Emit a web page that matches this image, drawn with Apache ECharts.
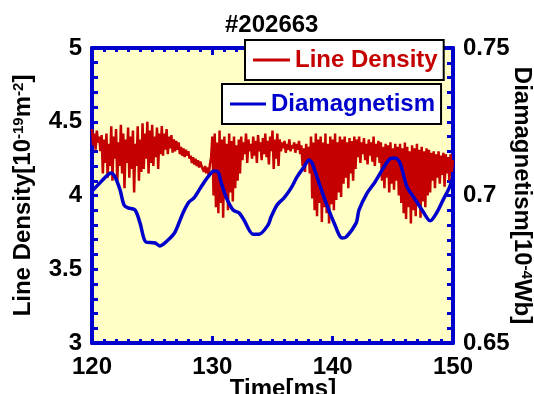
<!DOCTYPE html>
<html>
<head>
<meta charset="utf-8">
<script src="https://cdn.jsdelivr.net/npm/echarts@6/dist/echarts.min.js"></script>
<style>
  html, body { margin: 0; padding: 0; background: #fff; }
  #chart { width: 534px; height: 394px; }
</style>
</head>
<body>
<div id="chart"></div>
<script>
var densityStart = 120;
var densityStep = 0.1;
var densityValues = [
    4.45, 4.34, 4.42, 4.31, 4.44, 4.36, 4.40, 4.30,
    4.41, 4.15, 4.38, 4.22, 4.42, 4.12, 4.35, 4.20,
    4.47, 4.10, 4.40, 4.25, 4.45, 4.08, 4.36, 4.20, 4.48, 4.15, 4.42, 4.05, 4.38,
    4.22, 4.46, 4.12, 4.40, 4.18, 4.44, 4.02, 4.35, 4.20, 4.47, 4.10, 4.38, 4.16,
    4.49, 4.18, 4.42, 4.25, 4.50, 4.15, 4.44, 4.22, 4.48, 4.20, 4.40, 4.26, 4.46, 4.18, 4.42, 4.28,
    4.47, 4.27, 4.42, 4.31, 4.45, 4.28, 4.40, 4.32, 4.41, 4.29, 4.38, 4.30, 4.37, 4.31, 4.36, 4.28,
    4.33, 4.27, 4.32, 4.26, 4.31, 4.27, 4.30, 4.25,
    4.27, 4.22, 4.26, 4.21, 4.25, 4.20, 4.24, 4.19, 4.23, 4.20,
    4.21, 4.16, 4.20, 4.15, 4.19, 4.14, 4.21, 4.26,
    4.40, 4.00, 4.42, 3.92, 4.36, 3.88, 4.44, 3.95, 4.38, 3.85, 4.40, 3.98,
    4.35, 3.90, 4.42, 4.02, 4.37, 3.96, 4.40, 4.05, 4.34, 4.10, 4.38, 4.15,
    4.40, 4.24, 4.36, 4.28, 4.42, 4.22, 4.38, 4.30, 4.35, 4.25, 4.40, 4.27, 4.37, 4.22, 4.41, 4.30,
    4.36, 4.24, 4.39, 4.28, 4.42, 4.26, 4.37, 4.21, 4.40, 4.30, 4.44, 4.18, 4.38, 4.25, 4.42, 4.20,
    4.38, 4.30, 4.36, 4.32, 4.37, 4.29, 4.35, 4.31, 4.38, 4.30, 4.34, 4.32, 4.36, 4.29, 4.35, 4.31, 4.37, 4.28,
    4.34, 4.20, 4.32, 4.16, 4.35, 4.22, 4.33, 4.15,
    4.40, 3.98, 4.36, 3.90, 4.42, 3.86, 4.38, 3.95, 4.40, 3.82, 4.36, 3.92, 4.42,
    3.88, 4.35, 3.81, 4.40, 3.94, 4.38, 3.90, 4.42, 3.97, 4.36, 4.02, 4.40, 3.99,
    4.38, 4.08, 4.40, 4.12, 4.36, 4.05, 4.39, 4.15, 4.37, 4.10, 4.40, 4.18,
    4.38, 4.26, 4.40, 4.22, 4.36, 4.28, 4.39, 4.24, 4.35, 4.21, 4.38, 4.27, 4.36, 4.23, 4.40, 4.20, 4.35, 4.26, 4.37, 4.22,
    4.36, 4.10, 4.33, 4.05, 4.35, 4.12, 4.34, 4.02, 4.36, 4.08, 4.32, 4.04, 4.35, 4.10, 4.33, 4.00,
    4.35, 3.95, 4.32, 3.88, 4.36, 3.84, 4.33, 3.92, 4.30, 3.81, 4.34, 3.90, 4.32,
    3.86, 4.35, 3.94, 4.31, 3.85, 4.33, 3.96, 4.30, 3.92, 4.32, 4.00, 4.31, 4.02,
    4.29, 4.10, 4.30, 4.05, 4.28, 4.12, 4.30, 4.08, 4.27, 4.14, 4.29, 4.06, 4.28, 4.15, 4.26, 4.10, 4.28, 4.16, 4.24
];

// diamagnetism (10^-4 Wb)
var diaTime = [
    120.0, 120.5, 121.16, 121.58, 121.91, 122.33, 122.66, 123.0, 123.57, 123.99,
    124.49, 125.24, 125.65, 126.32, 126.9, 127.56, 128.06, 128.48, 129.06, 129.64,
    130.14, 130.47, 130.72, 131.14, 131.72, 132.22, 132.63, 133.38, 133.88, 134.63,
    134.88, 135.38, 135.96, 136.54, 137.04, 137.62, 138.04, 138.29, 138.87, 139.45,
    140.12, 140.78, 141.11, 141.95, 142.19, 142.86, 143.52, 144.27, 144.77, 145.19,
    145.6, 146.18, 146.77, 147.43, 148.1, 148.68, 149.26, 149.68, 150.0
];
var diaValues = [
    0.7015, 0.7036, 0.7064, 0.7076, 0.7063, 0.7019, 0.6968, 0.6958, 0.6951, 0.6907,
    0.6842, 0.6839, 0.6829, 0.6849, 0.6876, 0.6941, 0.6978, 0.6992, 0.7029, 0.7063,
    0.7083, 0.7080, 0.7046, 0.6995, 0.6951, 0.6941, 0.6917, 0.6869, 0.6869, 0.6900,
    0.6927, 0.6968, 0.6992, 0.7025, 0.7063, 0.7097, 0.7120, 0.7110, 0.7042, 0.6975,
    0.6907, 0.6856, 0.6859, 0.6907, 0.6951, 0.7008, 0.7046, 0.7097, 0.7124, 0.7127,
    0.7110, 0.7029, 0.6992, 0.6951, 0.6914, 0.6944, 0.6992, 0.7025, 0.7063
];

var densityData = [];
for (var i = 0; i < densityValues.length; i++) {
    densityData.push([densityStart + i * densityStep, densityValues[i]]);
}
var diaData = [];
for (var j = 0; j < diaTime.length; j++) {
    diaData.push([diaTime[j], diaValues[j]]);
}

var FONT = 'Liberation Sans, Arial, sans-serif';
var BLUE = '#0000cc';
var RED = '#c40000';

var axisLine = {show: true, lineStyle: {color: BLUE, width: 4}};
var labelStyle = {color: '#000', fontSize: 24, fontWeight: 'bold', fontFamily: FONT};
var supStyle = {color: '#000', fontSize: 15, fontWeight: 'bold', fontFamily: FONT, verticalAlign: 'top'};

var myChart = echarts.init(document.getElementById('chart'));
var option = {
    animation: false,
    backgroundColor: '#fff',
    title: {
        text: '#202663',
        left: 220,
        top: 8,
        textStyle: {color: '#000', fontSize: 24, fontWeight: 'bold', fontFamily: FONT}
    },
    legend: [
        {
            data: ['Line Density'],
            left: 245,
            top: 40,
            padding: [8, 6, 8, 8],
            backgroundColor: '#fff',
            borderColor: '#000',
            borderWidth: 2,
            icon: 'rect',
            itemWidth: 37,
            itemHeight: 3,
            textStyle: {color: RED, fontSize: 24, fontWeight: 'bold', fontFamily: FONT}
        },
        {
            data: ['Diamagnetism'],
            left: 222,
            top: 84,
            padding: [8, 6, 8, 8],
            backgroundColor: '#fff',
            borderColor: '#000',
            borderWidth: 2,
            icon: 'rect',
            itemWidth: 36,
            itemHeight: 3,
            textStyle: {color: BLUE, fontSize: 24, fontWeight: 'bold', fontFamily: FONT}
        }
    ],
    grid: {
        left: 92,
        right: 81,
        top: 48,
        bottom: 51,
        outerBoundsMode: 'none',
        containLabel: false,
        show: true,
        backgroundColor: '#ffffc6',
        borderWidth: 0
    },
    xAxis: [
        {
            type: 'value',
            min: 120,
            max: 150,
            interval: 10,
            name: 'Time[ms]',
            nameLocation: 'middle',
            nameGap: 34,
            nameMoveOverlap: false,
            nameTextStyle: {color: '#000', fontSize: 24, fontWeight: 'bold', fontFamily: FONT, padding: [0, 0, 0, 21]},
            axisLine: axisLine,
            axisTick: {show: true, inside: true, length: 7, lineStyle: {color: BLUE, width: 3}},
            minorTick: {show: true, splitNumber: 10, length: 4, lineStyle: {color: BLUE, width: 3}},
            axisLabel: Object.assign({margin: 12}, labelStyle),
            splitLine: {show: false}
        },
        {
            type: 'value',
            position: 'top',
            min: 120,
            max: 150,
            interval: 10,
            axisLine: axisLine,
            axisTick: {show: true, inside: true, length: 7, lineStyle: {color: BLUE, width: 3}},
            minorTick: {show: true, splitNumber: 10, length: 4, lineStyle: {color: BLUE, width: 3}},
            axisLabel: {show: false},
            splitLine: {show: false}
        }
    ],
    yAxis: [
        {
            type: 'value',
            min: 3,
            max: 5,
            interval: 0.5,
            name: 'Line Density[10{sup|-19}m{sup|-2}]',
            nameLocation: 'middle',
            nameRotate: 90,
            nameGap: 57,
            nameMoveOverlap: false,
            nameTextStyle: {
                color: '#000', fontSize: 24, fontWeight: 'bold', fontFamily: FONT,
                rich: {sup: supStyle}
            },
            axisLine: axisLine,
            axisTick: {show: true, inside: true, length: 6, lineStyle: {color: BLUE, width: 3}},
            minorTick: {show: true, splitNumber: 5, length: 6, lineStyle: {color: BLUE, width: 3}},
            axisLabel: Object.assign({margin: 10}, labelStyle),
            splitLine: {show: false}
        },
        {
            type: 'value',
            min: 0.65,
            max: 0.75,
            interval: 0.05,
            position: 'right',
            name: 'Diamagnetism[10{sup|-4}Wb]',
            nameLocation: 'middle',
            nameRotate: -90,
            nameGap: 57,
            nameMoveOverlap: false,
            nameTextStyle: {
                color: '#000', fontSize: 24, fontWeight: 'bold', fontFamily: FONT,
                rich: {sup: supStyle}
            },
            axisLine: axisLine,
            axisTick: {show: true, inside: true, length: 6, lineStyle: {color: BLUE, width: 3}},
            minorTick: {show: true, splitNumber: 10, length: 6, lineStyle: {color: BLUE, width: 3}},
            axisLabel: Object.assign({margin: 10}, labelStyle),
            splitLine: {show: false}
        }
    ],
    series: [
        {
            name: 'Line Density',
            type: 'line',
            xAxisIndex: 0,
            yAxisIndex: 0,
            data: densityData,
            showSymbol: false,
            color: RED,
            lineStyle: {color: RED, width: 2.5}
        },
        {
            name: 'Diamagnetism',
            type: 'line',
            xAxisIndex: 0,
            yAxisIndex: 1,
            data: diaData,
            showSymbol: false,
            smooth: 0.3,
            color: BLUE,
            lineStyle: {color: BLUE, width: 3.5}
        }
    ]
};
myChart.setOption(option);
</script>
</body>
</html>
